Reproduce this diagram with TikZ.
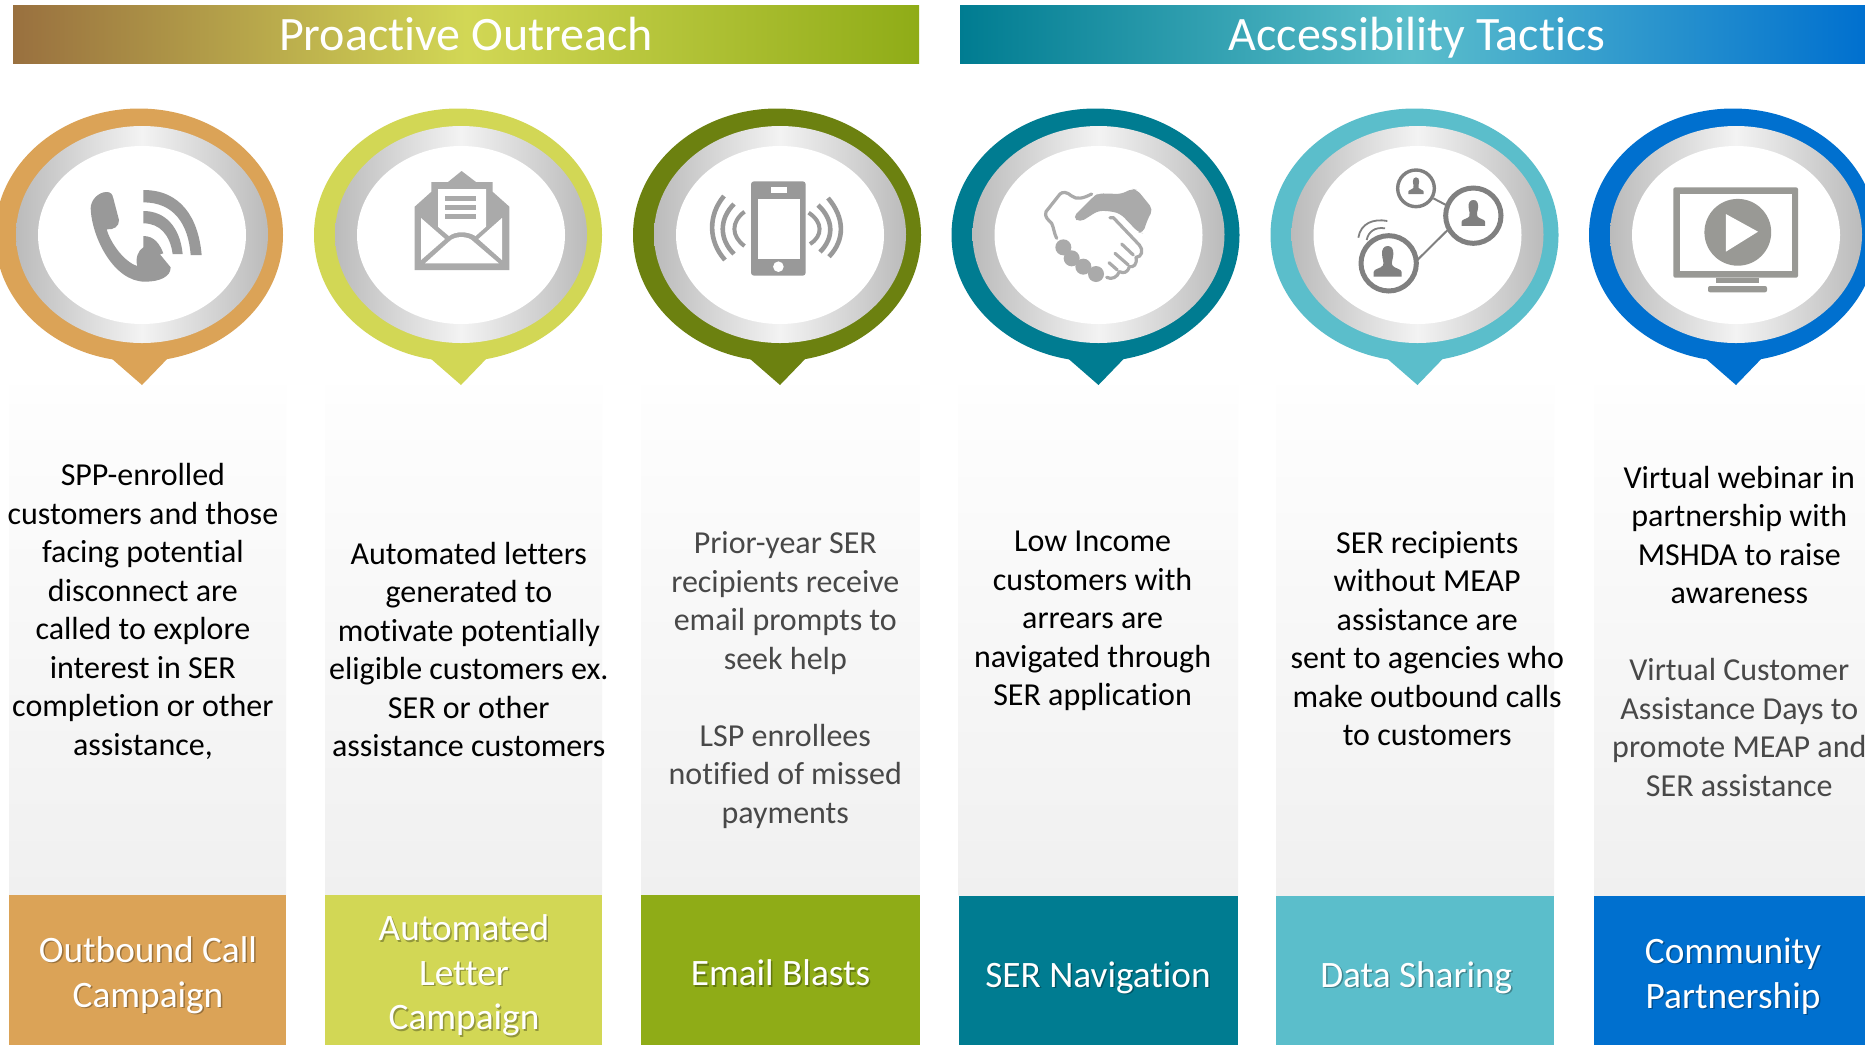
\documentclass[tikz,border=0pt]{standalone}
\usepackage{fontspec}
\setmainfont[Ligatures=NoCommon]{Carlito}
\definecolor{corange}{HTML}{DBA357}
\definecolor{cyellow}{HTML}{D2D755}
\definecolor{colive}{HTML}{6C8110}
\definecolor{cgreen}{HTML}{8FAC17}
\definecolor{cteal}{HTML}{007C91}
\definecolor{caqua}{HTML}{5BBECB}
\definecolor{cblue}{HTML}{0070CF}
\definecolor{cbrown}{HTML}{99703F}
\definecolor{dimtext}{HTML}{484848}
\definecolor{ringgrey}{HTML}{BBBBBB}
\definecolor{ringlight}{HTML}{F3F3F3}
\definecolor{colgrey}{HTML}{F0F0F0}
\definecolor{coltop}{HTML}{FEFEFE}
\definecolor{iconphone}{HTML}{999999}
\definecolor{iconenv}{HTML}{AAAAAA}
\definecolor{iconnet}{HTML}{808080}
\definecolor{icontv}{HTML}{999995}
\tikzset{
  bodytext/.style={align=center,inner sep=0pt,font=\fontsize{32}{38.5}\selectfont,text=black},
  labeltext/.style={align=center,inner sep=0pt,font=\fontsize{37.3}{44.7}\selectfont,text=white},
  shadowtext/.style={align=center,inner sep=0pt,font=\fontsize{37.3}{44.7}\selectfont,text=black,opacity=.3},
  headtext/.style={inner sep=0pt,anchor=base,font=\fontsize{48}{52}\selectfont,text=white},
}
\newcommand{\pinshape}[2]{%
  \fill[#2] (#1-3,235) ellipse [x radius=144,y radius=126.5];
  \fill[#2] (#1-31,352) -- (#1-31,358) -- (#1,385) -- (#1+28,356) -- (#1+28,352) -- cycle;
  \shade[left color=ringgrey,right color=ringgrey,middle color=ringlight] (#1,234.5) ellipse [x radius=126,y radius=108.5];
  \fill[white] (#1,235) ellipse [x radius=104,y radius=89];
}
\newcommand{\columnshape}[4]{%
  \shade[top color=coltop,bottom color=colgrey] (#1,385) rectangle (#2,#4);
  \fill[#3] (#1,#4) rectangle (#2,1045);
}
\newcommand{\bustshape}[3]{%
  \fill[iconnet,shift={(#1,#2)},scale=#3] (0,0) .. controls (12,0) and (18,10) .. (17,25) .. controls (16,40) and (10,50) .. (14,58) .. controls (20,68) and (42,68) .. (42,78) -- (42,92) -- (-42,92) -- (-42,78) .. controls (-42,68) and (-20,68) .. (-14,58) .. controls (-10,50) and (-16,40) .. (-17,25) .. controls (-18,10) and (-12,0) .. (0,0) -- cycle;
}
\begin{document}
\begin{tikzpicture}[x=1pt,y=-1pt]
\useasboundingbox (0,0) rectangle (1865,1045);
\fill[white] (0,0) rectangle (1865,1045);
% headers
\shade[left color=cbrown,right color=cgreen,middle color=cyellow] (13,5) rectangle (919,63);
\shade[left color=cteal,right color=cblue,middle color=caqua] (960,5) rectangle (1865,63);
\node[headtext] (headA) at (466,50.5) {Proactive Outreach};
\node[headtext] (headB) at (1417,50.5) {Accessibility Tactics};
% columns
\columnshape{9}{286}{corange}{894.5}
\columnshape{325}{602}{cyellow}{894.5}
\columnshape{641}{919.5}{cgreen}{894.5}
\columnshape{958.5}{1238}{cteal}{895.5}
\columnshape{1276}{1554}{caqua}{895.5}
\columnshape{1594}{1865}{cblue}{895.5}
% pins
\pinshape{142}{corange}
\pinshape{461}{cyellow}
\pinshape{780}{colive}
\pinshape{1098.5}{cteal}
\pinshape{1417.5}{caqua}
\pinshape{1736}{cblue}
% phone icon
\begin{scope}[shift={(80,170)},scale=1/3]
\fill[iconphone] (80,66) .. controls (92,66) and (97,72) .. (100,85) -- (117,150) .. controls (118,170) and (100,180) .. (80,178) .. controls (90,215) and (130,275) .. (172,288) .. controls (165,265) and (175,240) .. (190,232) -- (190,198) .. controls (225,198) and (240,225) .. (250,250) -- (240,253) -- (272,292) .. controls (272,320) and (240,335) .. (195,335) .. controls (100,335) and (35,200) .. (32,115) .. controls (32,90) and (55,66) .. (80,66) -- cycle;
\fill[iconphone] (190,60) .. controls (300,60) and (355,140) .. (365,255) -- (332,255) .. controls (325,160) and (280,97) .. (190,97) -- cycle;
\fill[iconphone] (190,123) .. controls (255,123) and (300,170) .. (308,252) -- (278,252) .. controls (270,195) and (240,160) .. (190,160) -- cycle;
\end{scope}
% envelope icon
\fill[iconenv] (414.7,270) -- (414.7,206.7) -- (431.4,191.7) -- (431.4,182) -- (448,182) -- (461.6,171) -- (476,182) -- (492.6,182) -- (492.6,191.7) -- (509.4,206.7) -- (509.4,270) -- cycle;
\fill[white] (438,189) -- (486,189) -- (486,226.7) -- (475.5,236) .. controls (468,231) and (455,231) .. (449,236) -- (438,226.7) -- cycle;
\fill[iconenv] (445,196) rectangle (476,201);
\fill[iconenv] (445,205) rectangle (476,210);
\fill[iconenv] (445,214) rectangle (476,219);
\fill[white] (421,218) -- (445,239) -- (421,260) -- cycle;
\fill[white] (502,218) -- (478.4,239) -- (502,260) -- cycle;
\fill[white] (425,263.3) -- (449,241.7) .. controls (455,235.5) and (468,235.5) .. (473.5,241.7) -- (498.8,263.3) -- cycle;
% mobile icon
\fill[iconphone,rounded corners=3pt] (751,181.3) rectangle (805.7,275.7);
\fill[white] (757.6,198.7) rectangle (799.6,259.3);
\fill[white] (771,187.3) rectangle (787.3,193);
\fill[white] (778.4,266.7) circle [radius=5.3];
\draw[iconphone,line width=4.6pt] (724,196) .. controls (708,215) and (708,241) .. (725,260);
\draw[iconphone,line width=4.6pt] (734,204) .. controls (719,219) and (719,239) .. (734,254);
\draw[iconphone,line width=4pt] (744.5,211.7) .. controls (731,222) and (731,236) .. (744.5,246);
\draw[iconphone,line width=4pt] (808.6,212.7) .. controls (823,222) and (823,236) .. (810,244);
\draw[iconphone,line width=4.6pt] (818,205) .. controls (834,220) and (834,238) .. (820,252);
\draw[iconphone,line width=4.6pt] (828,198) .. controls (845,218) and (845,240) .. (829,256.7);
% handshake icon
\begin{scope}[shift={(1030,170)},scale=1/3]
\fill[iconenv,rounded corners=5pt] (128,142) -- (190,80) -- (205,70) -- (275,72) -- (305,56) -- (322,60) -- (369,118) -- (352,150) -- (339,190) -- (325,187) -- (272,132) -- (245,124) -- (205,122) -- (150,157) -- cycle;
\draw[iconenv,line width=3.2pt,line cap=round,line join=round] (185,72) .. controls (160,85) and (140,90) .. (125,78) .. controls (110,65) and (98,65) .. (90,72) -- (48,125) .. controls (42,140) and (55,150) .. (65,160) .. controls (72,175) and (72,190) .. (80,205);
\fill[iconenv] (100,232) circle [radius=24];
\fill[iconenv] (125,265) circle [radius=24];
\fill[iconenv] (160,290) circle [radius=24];
\fill[iconenv] (198,312) circle [radius=24];
\draw[iconenv,line width=3.2pt,line cap=round,line join=round] (240,143) -- (250,143) -- (328,225) .. controls (342,240) and (335,262) .. (318,262) .. controls (322,285) and (310,292) .. (298,290) .. controls (292,310) and (280,310) .. (268,305) .. controls (262,322) and (245,330) .. (230,322);
\draw[iconenv,line width=3.2pt,line cap=round] (275,222) -- (310,255);
\draw[iconenv,line width=3.2pt,line cap=round] (255,250) -- (295,285);
\draw[iconenv,line width=3.2pt,line cap=round] (237,278) -- (262,300);
\end{scope}
% network icon
\begin{scope}[shift={(1340,160)},scale=1/3]
\draw[iconnet,line width=2pt] (280,115) -- (318,135);
\draw[iconnet,line width=2pt] (232,300) -- (325,208);
\draw[iconnet,line width=5pt] (400,167) circle [radius=83];
\draw[iconnet,line width=3.4pt] (228,85) circle [radius=55];
\draw[iconnet,line width=5pt] (146,310) circle [radius=83];
\draw[iconnet,line width=1.8pt] (55,233) .. controls (62,190) and (100,175) .. (142,183);
\draw[iconnet,line width=1.8pt] (80,240) .. controls (85,215) and (105,200) .. (135,205);
\bustshape{400}{120}{.84}
\bustshape{228}{52}{.55}
\bustshape{143}{258}{1}
\end{scope}
% monitor icon
\fill[icontv,rounded corners=2pt] (1673.3,187.3) rectangle (1798,277.7);
\fill[white] (1679.6,194.3) rectangle (1791.6,271);
\fill[icontv] (1737.8,232.3) circle [radius=33.4];
\fill[white] (1725.8,214) -- (1758,231.7) -- (1725.8,251.7) -- cycle;
\fill[icontv] (1715.5,277.7) rectangle (1759.3,283.3);
\fill[icontv,rounded corners=2pt] (1708,286) rectangle (1767,292.3);
% body texts
\node[bodytext] (bodyA) at (142.9,611.5) {SPP-enrolled\\customers and those\\facing potential\\disconnect are\\called to explore\\interest in SER\\completion or other\\assistance,};
\node[bodytext] (bodyB) at (468.8,649.5) {Automated letters\\generated to\\motivate potentially\\eligible customers ex.\\SER or other\\assistance customers};
\node[bodytext,text=dimtext] (bodyC) at (785.3,680) {Prior-year SER\\recipients receive\\email prompts to\\seek help\\~\\LSP enrollees\\notified of missed\\payments};
\node[bodytext] (bodyD) at (1092.6,621) {Low Income\\customers with\\arrears are\\navigated through\\SER application};
\node[bodytext] (bodyE) at (1427.2,638.5) {SER recipients\\without MEAP\\assistance are\\sent to agencies who\\make outbound calls\\to customers};
\node[bodytext] (bodyF) at (1739.3,631) {Virtual webinar in\\partnership with\\MSHDA to raise\\awareness\\~\\\color{dimtext}Virtual Customer\\\color{dimtext}Assistance Days to\\\color{dimtext}promote MEAP and\\\color{dimtext}SER assistance};
% bottom labels
\node[shadowtext] (shadowA) at (149.5,976.5) {Outbound Call\\Campaign};
\node[labeltext] (labelA) at (148,975) {Outbound Call\\Campaign};
\node[shadowtext] (shadowB) at (465.5,977) {Automated\\Letter\\Campaign};
\node[labeltext] (labelB) at (464,975.5) {Automated\\Letter\\Campaign};
\node[shadowtext] (shadowC) at (782,974.5) {Email Blasts};
\node[labeltext] (labelC) at (780.5,973) {Email Blasts};
\node[shadowtext] (shadowD) at (1099.5,979) {SER Navigation};
\node[labeltext] (labelD) at (1098,977.5) {SER Navigation};
\node[shadowtext] (shadowE) at (1417.8,979) {Data Sharing};
\node[labeltext] (labelE) at (1416.3,977.5) {Data Sharing};
\node[shadowtext] (shadowF) at (1734.5,977.5) {Community\\Partnership};
\node[labeltext] (labelF) at (1733,976) {Community\\Partnership};
\end{tikzpicture}
\end{document}
